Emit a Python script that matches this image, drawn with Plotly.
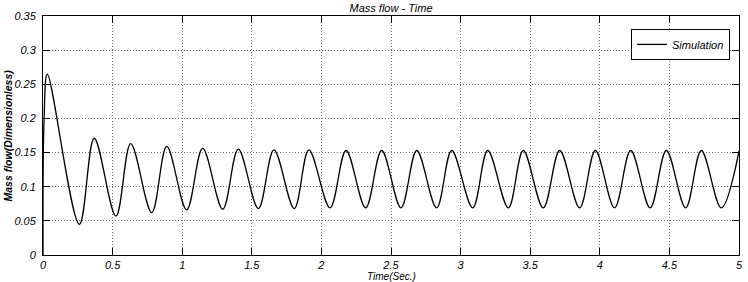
import plotly.graph_objects as go

# Extrema of the simulated mass-flow signal
time_s = [0.0, 0.008, 0.031, 0.261, 0.368, 0.524, 0.630, 0.781, 0.889, 1.032, 1.147,
          1.291, 1.403, 1.547, 1.659, 1.805, 1.910, 2.062, 2.177, 2.318, 2.433,
          2.572, 2.685, 2.828, 2.936, 3.087, 3.195, 3.343, 3.450, 3.594, 3.712,
          3.855, 3.968, 4.106, 4.222, 4.362, 4.478, 4.617, 4.729, 4.873, 5.0]
mass_flow = [0.0, 0.20, 0.265, 0.045, 0.171, 0.057, 0.163, 0.062, 0.159, 0.066, 0.156,
             0.067, 0.155, 0.068, 0.154, 0.068, 0.154, 0.069, 0.153, 0.069, 0.153,
             0.069, 0.153, 0.069, 0.153, 0.069, 0.153, 0.069, 0.153, 0.069, 0.153,
             0.069, 0.153, 0.069, 0.153, 0.069, 0.153, 0.069, 0.153, 0.069, 0.152]

x_ticks = [0, 0.5, 1, 1.5, 2, 2.5, 3, 3.5, 4, 4.5, 5]
x_tick_labels = ["0", "0.5", "1", "1.5", "2", "2.5", "3", "3.5", "4", "4.5", "5"]
y_ticks = [0, 0.05, 0.1, 0.15, 0.2, 0.25, 0.3, 0.35]
y_tick_labels = ["0", "0.05", "0.1", "0.15", "0.2", "0.25", "0.3", "0.35"]

FONT = "Liberation Sans Narrow, Arial Narrow, Liberation Sans, Arial, sans-serif"

fig = go.Figure()
fig.add_trace(go.Scatter(
    x=time_s, y=mass_flow, mode="lines", name="Simulation",
    line=dict(color="black", width=1.3, shape="spline", smoothing=1.0),
))

axis_common = dict(
    showline=True, linecolor="black", linewidth=1, mirror="ticks",
    ticks="inside", ticklen=7, tickcolor="black",
    showgrid=True, gridcolor="#707070", gridwidth=1, griddash="1px,2px",
    zeroline=False,
    tickfont=dict(family=FONT, size=11, color="black", style="italic"),
)

fig.update_xaxes(range=[0, 5], tickvals=x_ticks, ticktext=x_tick_labels, **axis_common)
fig.update_yaxes(range=[0, 0.35], tickvals=y_ticks, ticktext=y_tick_labels,
                 ticklabelstandoff=4, **axis_common)

fig.update_layout(
    width=748, height=282,
    margin=dict(l=43, r=9, t=16, b=27, autoexpand=False),
    paper_bgcolor="white", plot_bgcolor="white",
    title=dict(text="Mass flow - Time", x=0.5, xref="paper", y=1 - 8 / 282,
               yanchor="middle", xanchor="center",
               font=dict(family=FONT, size=11, color="black", style="italic")),
    showlegend=True,
    legend=dict(x=0.987, y=0.946, xanchor="right", yanchor="top",
                bgcolor="white", bordercolor="black", borderwidth=1,
                font=dict(family=FONT, size=11, color="black", style="italic"),
                itemwidth=30, tracegroupgap=0),
    annotations=[
        dict(text="Time(Sec.)", xref="paper", yref="paper", x=0.5, y=(255 - 276) / 239,
             xanchor="center", yanchor="middle", showarrow=False,
             font=dict(family=FONT, size=10, color="black", style="italic")),
        dict(text="<b>Mass flow(Dimensionless)</b>", xref="paper", yref="paper",
             x=(7 - 43) / 696, y=0.5, xanchor="center", yanchor="middle",
             textangle=-90, showarrow=False,
             font=dict(family=FONT, size=10.5, color="black", style="italic")),
    ],
)

fig.write_html("out.html")
